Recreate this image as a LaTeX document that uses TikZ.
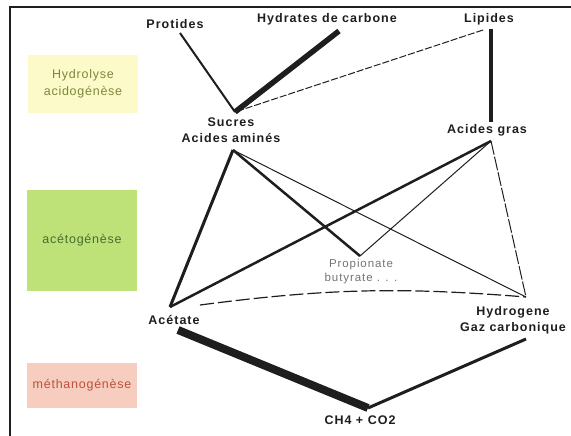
\documentclass[tikz,border=0pt]{standalone}
\usepackage{fontspec}
\newfontfamily\lblfont[LetterSpace=8]{Liberation Sans}
\newfontfamily\phasefont[LetterSpace=6]{Liberation Sans}
\definecolor{trait}{RGB}{30,30,30}
\definecolor{jauneph}{RGB}{252,250,200}
\definecolor{vertph}{RGB}{190,225,120}
\definecolor{roseph}{RGB}{246,205,190}

\begin{document}
\begin{tikzpicture}[x=1pt, y=-1pt,
    lbl/.style={inner sep=0pt, align=center, text=trait, font=\lblfont\bfseries\fontsize{12.5}{16}\selectfont},
    lblgris/.style={inner sep=0pt, align=center, text=black!55, font=\lblfont\fontsize{11.5}{14}\selectfont},
    phase/.style={inner sep=0pt, align=center, minimum width=110pt, font=\phasefont\fontsize{12.5}{17}\selectfont},
    lien/.style={draw=trait, line cap=butt}]

            \useasboundingbox (0,0) rectangle (571,436);

            % Cadre
            \draw[line width=2.5pt, trait] (10,436) -- (10,7) -- (571,7);

            % Phases
            \node[phase, fill=jauneph, text={rgb,255:red,125;green,135;blue,60}, minimum height=58pt] (hydrolyse) at (83,84) {Hydrolyse\\acidogénèse};
            \node[phase, fill=vertph, text={rgb,255:red,70;green,110;blue,50}, minimum height=101pt] (aceto) at (82,240) {acétogénèse};
            \node[phase, fill=roseph, text={rgb,255:red,190;green,80;blue,60}, minimum height=45pt] (methano) at (82,385) {méthanogénèse};

            % Noeuds
            \node[lbl] (protides) at (175,24) {Protides};
            \node[lbl] (hydrates) at (327,19) {Hydrates de carbone};
            \node[lbl] (lipides) at (489,19) {Lipides};
            \node[lbl] (sucres) at (231,130) {Sucres\\Acides aminés};
            \node[lbl] (gras) at (487,130) {Acides gras};
            \node[lblgris] (propio) at (361,272) {Propionate\\butyrate . . .};
            \node[lbl] (acetate) at (174,320) {Acétate};
            \node[lbl] (hydro) at (513,320) {Hydrogene\\Gaz carbonique};
            \node[lbl] (ch4) at (360,420) {CH4 + CO2};

            \coordinate (protA) at (180,33);
            \coordinate (hydA) at (339,31);
            \coordinate (lipD) at (483,30);
            \coordinate (lipV) at (491,29);
            \coordinate (sucH) at (235,112);
            \coordinate (sucB) at (233,150);
            \coordinate (grasH) at (491,122);
            \coordinate (grasB) at (491,141);
            \coordinate (prop) at (360,256);
            \coordinate (acet) at (170,307);
            \coordinate (acetC) at (200,305);
            \coordinate (acetB) at (178,330);
            \coordinate (hyd) at (526,297);
            \coordinate (hydB) at (526,339);
            \coordinate (ch4H) at (368,408);

            % Arêtes
            \draw[lien, line width=2pt] (protA) -- (sucH);
            \draw[lien, line width=5.5pt] (hydA) -- (sucH);
            \draw[lien, line width=1pt, dash pattern=on 7pt off 2pt] (lipD) -- (sucH);
            \draw[lien, line width=3.5pt] (lipV) -- (grasH);
            \draw[lien, line width=3pt] (sucB) -- (acet);
            \draw[lien, line width=2.5pt] (sucB) -- (prop);
            \draw[lien, line width=1pt] (sucB) -- (hyd);
            \draw[lien, line width=2.5pt] (grasB) -- (acet);
            \draw[lien, line width=1pt] (grasB) -- (prop);
            \draw[lien, line width=1pt, dash pattern=on 14pt off 2pt] (grasB) -- (hyd);
            \draw[lien, line width=1.2pt, dash pattern=on 14pt off 4pt] (acetC) to[bend left=6] (hyd);
            \draw[lien, line width=8pt] (acetB) -- (ch4H);
            \draw[lien, line width=3pt] (ch4H) -- (hydB);

            \end{tikzpicture}
\end{document}
